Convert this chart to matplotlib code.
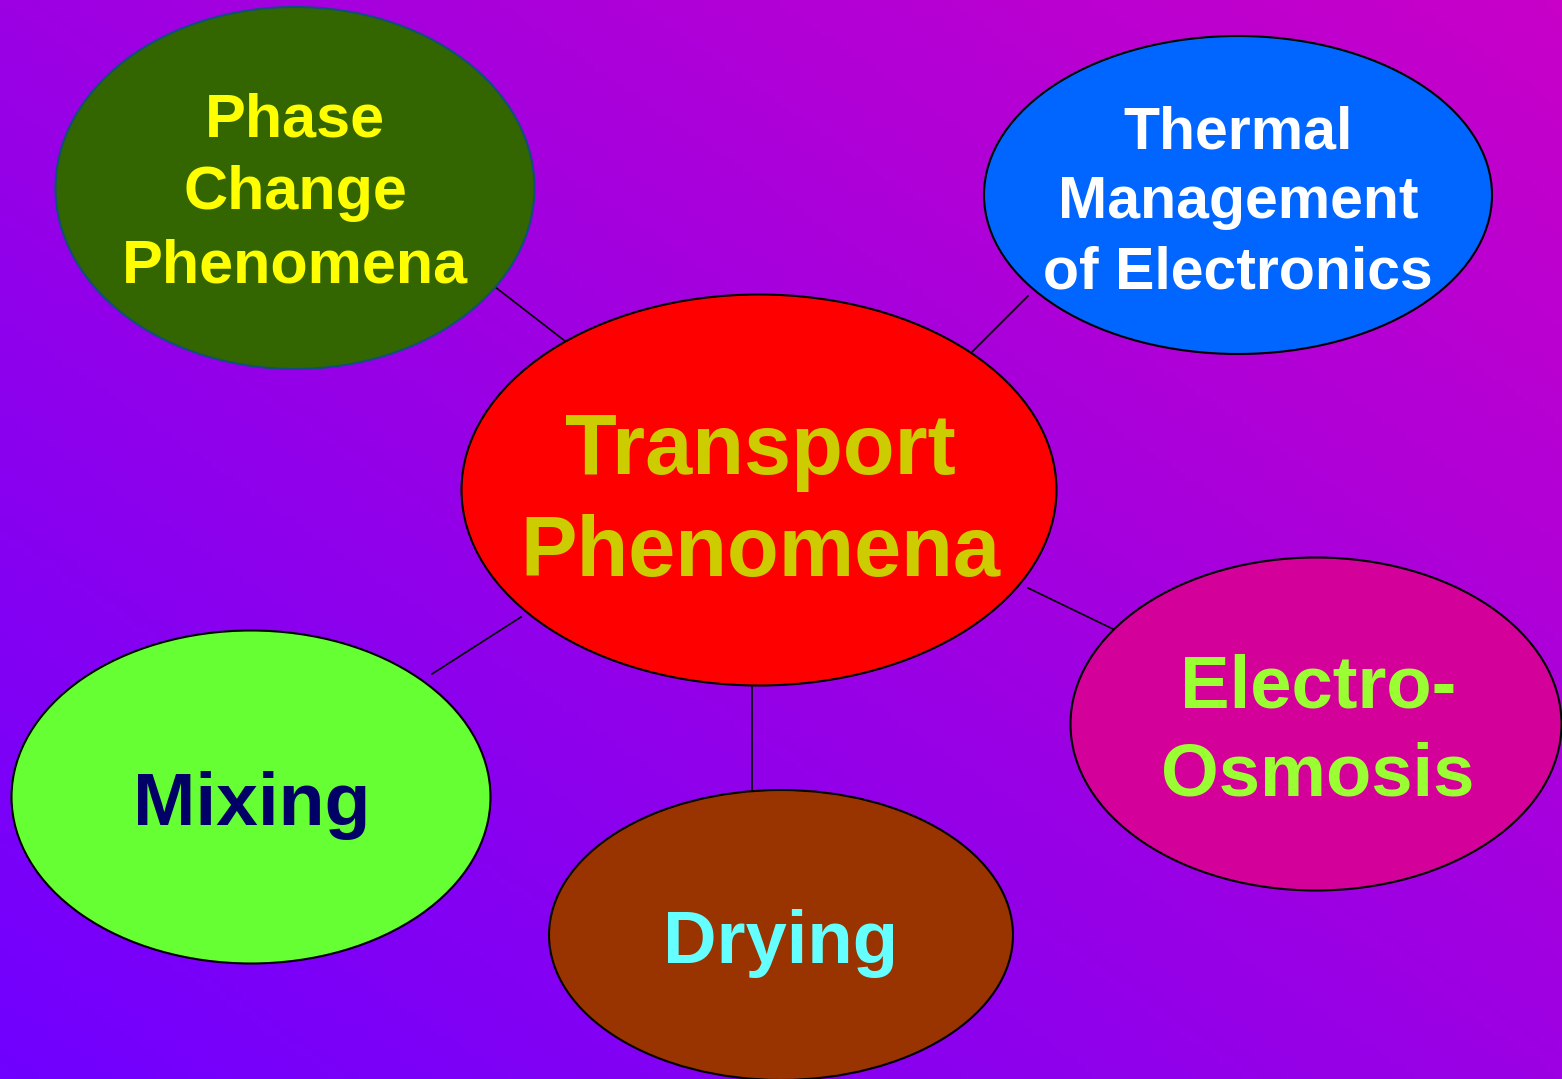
import numpy as np
import matplotlib.pyplot as plt
from matplotlib.patches import Ellipse
from matplotlib.colors import LinearSegmentedColormap

W, H = 1562, 1079

# nodes of the concept map (pixel space, y down)
labels = ["Phase\nChange\nPhenomena", "Thermal\nManagement\nof Electronics",
          "Transport\nPhenomena", "Electro-\nOsmosis", "Mixing", "Drying"]
centers = [(295, 188), (1238, 195), (759, 490), (1316, 724), (251, 797), (781, 935)]
widths = [479, 508, 595, 491, 479, 464]
heights = [362, 318, 391, 333, 333, 290]
fills = ["#336600", "#0066FF", "#FF0000", "#D4009A", "#66FF33", "#993300"]
edges = ["#0F4F7A", "black", "black", "black", "black", "black"]
text_colors = ["#FFFF00", "#FFFFFF", "#CCCC00", "#99FF33", "#000066", "#66FFFF"]
text_sizes = [44, 42.5, 61, 53.5, 54, 53.5]
text_spacing = [1.36, 1.35, 1.35, 1.36, 1.0, 1.0]
text_pos = [(295, 194), (1238, 203), (760, 503), (1318, 732), (252, 806), (781, 944)]

# connector lines
links = [((490, 283), (565, 341)), ((1028, 296), (970, 354)),
         ((1028, 588), (1115, 630)), ((521, 617), (432, 674)),
         ((752, 686), (752, 791))]

fig = plt.figure(figsize=(15.62, 10.79), dpi=100)
ax = fig.add_axes([0, 0, 1, 1])
ax.set_xlim(0, W)
ax.set_ylim(H, 0)
ax.axis("off")

# diagonal background gradient: violet bottom-left -> magenta top-right
xx, yy = np.meshgrid(np.linspace(0, 1, 200), np.linspace(0, 1, 150))
t = (xx + (1 - yy)) / 2
cmap = LinearSegmentedColormap.from_list("bg", ["#7000FF", "#C800C8"])
ax.imshow(t, cmap=cmap, extent=[0, W, H, 0], aspect="auto", zorder=0)

for (p0, p1) in links:
    ax.plot([p0[0], p1[0]], [p0[1], p1[1]], color="black", lw=1.2, zorder=1)

for c, w, h, fc, ec in zip(centers, widths, heights, fills, edges):
    ax.add_patch(Ellipse(c, w, h, facecolor=fc, edgecolor=ec, lw=1.5, zorder=2))

for lab, (x, y), col, fs, ls in zip(labels, text_pos, text_colors, text_sizes, text_spacing):
    ax.text(x, y, lab, ha="center", va="center", color=col, fontsize=fs,
            fontweight="bold", family="Liberation Sans", linespacing=ls,
            multialignment="center", zorder=3)

fig.savefig("out.png", dpi=100)
